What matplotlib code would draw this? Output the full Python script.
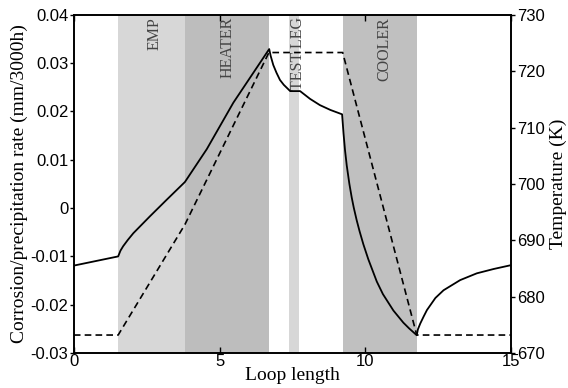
import matplotlib
matplotlib.use('Agg')
import matplotlib.pyplot as plt

# solid curve: corrosion/precipitation rate along the loop (left axis)
rate_x = [0, 1.52, 1.6, 1.69, 1.85, 2.04, 2.61, 3.18, 3.81, 4.56, 5.47, 6.7,
          6.75, 6.84, 6.95, 7.07, 7.2, 7.42, 7.76, 8.1, 8.44, 8.8, 9.2,
          9.22, 9.25, 9.3, 9.36, 9.45, 9.53, 9.6, 9.70, 9.8, 9.93, 10.1, 10.39,
          10.6, 10.96, 11.3, 11.5, 11.76,
          11.8, 11.88, 12.0, 12.11, 12.4, 12.68, 13.25, 13.82, 14.4, 15]
rate_y = [-0.0119, -0.0100, -0.0088, -0.0079, -0.0066, -0.0052, -0.0017, 0.0017, 0.0054, 0.0122, 0.0218, 0.0329,
          0.0315, 0.0296, 0.0280, 0.0265, 0.0255, 0.0242, 0.0242, 0.0226, 0.0213, 0.0203, 0.0194,
          0.0178, 0.0154, 0.0120, 0.0088, 0.0050, 0.0022, 0.0001, -0.0025, -0.0048, -0.0075, -0.0106, -0.0152,
          -0.0178, -0.0212, -0.0237, -0.0249, -0.0263,
          -0.0251, -0.0239, -0.0224, -0.0211, -0.0186, -0.0170, -0.0149, -0.0135, -0.0126, -0.0118]

# dashed curve: temperature (right axis)
temp_x = [0, 1.52, 3.81, 6.69, 9.22, 11.76, 15]
temp_y = [673.2, 673.2, 692.8, 723.3, 723.3, 673.2, 673.2]

# loop sections: (name, start, end, colour, label x)
sections = [
    ('EMP', 1.52, 3.81, '#d7d7d7', 2.78),
    ('HEATER', 3.81, 6.69, '#bdbdbd', 5.29),
    ('TEST LEG', 7.39, 7.73, '#d7d7d7', 7.69),
    ('COOLER', 9.22, 11.76, '#c0c0c0', 10.64),
]

fig = plt.figure(figsize=(5.68, 3.88), dpi=100)
ax = fig.add_axes([0.130, 0.090, 0.770, 0.872])

for name, start, end, colour, label_x in sections:
    ax.axvspan(start, end, color=colour, lw=0, zorder=0)
    ax.text(label_x, 0.0395, name, rotation=90, ha='center', va='top',
            family='Liberation Serif', fontsize=11.5, color='#444444', zorder=1)

ax.plot(rate_x, rate_y, color='black', lw=1.3, zorder=3)
ax.set_xlim(0, 15)
ax.set_ylim(-0.03, 0.04)
ax.set_xticks([0, 5, 10, 15])
ax.set_yticks([-0.03, -0.02, -0.01, 0, 0.01, 0.02, 0.03, 0.04])
ax.set_yticklabels(['-0.03', '-0.02', '-0.01', '0', '0.01', '0.02', '0.03', '0.04'])

ax2 = ax.twinx()
ax2.plot(temp_x, temp_y, color='black', lw=1.2, ls=(0, (4, 2.5)), zorder=3)
ax2.set_ylim(670, 730)
ax2.set_yticks([670, 680, 690, 700, 710, 720, 730])

for a in (ax, ax2):
    for s in a.spines.values():
        s.set_linewidth(1.2)
ax.tick_params(axis='x', direction='in', top=True, length=4, width=1, labelsize=12, pad=1)
ax.tick_params(axis='y', direction='out', length=3, width=1, labelsize=12, pad=1)
ax2.tick_params(axis='y', direction='out', length=3, width=1, labelsize=12, pad=1)
for lab in ax.get_xticklabels() + ax.get_yticklabels() + ax2.get_yticklabels():
    lab.set_family('Liberation Sans')

ax.set_xlabel('Loop length', family='Liberation Serif', fontsize=14, labelpad=-2)
ax.set_ylabel('Corrosion/precipitation rate (mm/3000h)', family='Liberation Serif',
              fontsize=14, labelpad=2)
ax2.set_ylabel('Temperature (K)', family='Liberation Serif', fontsize=14, labelpad=4)

fig.savefig('out.png', dpi=100)
